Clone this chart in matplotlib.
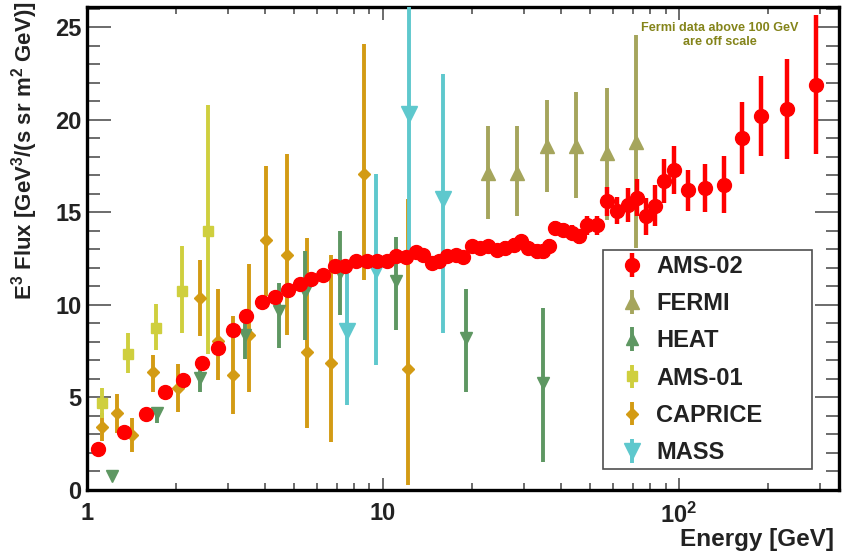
import numpy as np
import matplotlib
matplotlib.use("Agg")
import matplotlib.pyplot as plt
from matplotlib.ticker import LogLocator, FixedLocator, FixedFormatter, MultipleLocator, NullFormatter

plt.rcParams['font.family'] = ['Liberation Sans', 'DejaVu Sans']
plt.rcParams['font.weight'] = 'bold'
plt.rcParams['mathtext.fontset'] = 'custom'
plt.rcParams['mathtext.rm'] = 'Liberation Sans:bold'
plt.rcParams['mathtext.bf'] = 'Liberation Sans:bold'
plt.rcParams['mathtext.it'] = 'Liberation Sans:bold'

# ---------------- data ----------------
ams02_e = [1.09, 1.33, 1.58, 1.83, 2.11, 2.44, 2.77, 3.11, 3.45, 3.91, 4.33, 4.79,
           5.26, 5.72, 6.28, 6.87, 7.46, 8.13, 8.81, 9.51, 10.3, 11.1, 12.0, 12.9,
           13.7, 14.6, 15.4, 16.5, 17.6, 18.7, 20.0, 21.3, 22.7, 24.3, 25.9, 27.6,
           29.2, 31.0, 33.0, 34.8, 36.4, 38.1, 40.7, 43.4, 45.8, 48.7, 52.8, 57.2,
           61.9, 67.0, 72.1, 77.2, 83.1, 89.1, 96.4, 107.6, 122.7, 141.6, 163.1,
           188.7, 230.7, 289.7]
ams02_f = [2.2, 3.15, 4.1, 5.27, 5.95, 6.87, 7.67, 8.62, 9.38, 10.16, 10.41, 10.82,
           11.13, 11.4, 11.63, 12.08, 12.12, 12.35, 12.35, 12.35, 12.4, 12.62, 12.59, 12.86,
           12.7, 12.27, 12.35, 12.62, 12.72, 12.59, 13.17, 13.08, 13.17, 12.95, 13.08, 13.26,
           13.44, 13.08, 12.9, 12.9, 13.17, 14.16, 14.07, 13.9, 13.7, 14.3, 14.3, 15.6,
           15.1, 15.4, 15.8, 14.8, 15.37, 16.7, 17.3, 16.2, 16.3, 16.5, 19.0,
           20.2, 20.6, 21.9]
ams02_err = [0.1, 0.1, 0.1, 0.1, 0.1, 0.1, 0.1, 0.1, 0.15, 0.15, 0.15, 0.15,
             0.15, 0.15, 0.2, 0.2, 0.2, 0.2, 0.2, 0.2, 0.2, 0.25, 0.25, 0.25,
             0.25, 0.25, 0.25, 0.3, 0.3, 0.3, 0.3, 0.3, 0.3, 0.3, 0.35, 0.35,
             0.35, 0.35, 0.4, 0.4, 0.4, 0.35, 0.35, 0.4, 0.4, 0.5, 0.5, 0.8,
             0.75, 0.9, 1.0, 1.0, 1.1, 1.2, 1.3, 1.1, 1.3, 1.55, 1.95,
             2.15, 2.7, 3.75]

fermi_e = [22.6, 28.4, 35.7, 44.9, 57.1, 71.8]
fermi_f = [17.14, 17.14, 18.6, 18.6, 18.2, 18.8]
fermi_lo = [14.65, 14.79, 16.1, 15.8, 14.6, 13.1]
fermi_hi = [19.66, 19.66, 21.1, 21.5, 21.7, 24.6]

heat_e = [1.21, 1.72, 2.41, 3.43, 4.45, 5.47, 7.14, 11.1, 19.0, 34.8]
heat_f = [0.76, 4.15, 6.04, 8.39, 9.65, 10.68, 11.75, 11.27, 8.2, 5.77]
heat_lo = [0.7, 3.6, 5.3, 7.1, 7.7, 8.1, 9.47, 8.66, 5.32, 1.53]
heat_hi = [0.82, 4.5, 6.5, 9.1, 11.2, 12.9, 14.0, 13.67, 10.86, 9.83]

ams01_e = [1.125, 1.378, 1.704, 2.086, 2.56]
ams01_f = [4.69, 7.34, 8.75, 10.77, 14.0]
ams01_lo = [3.9, 6.31, 7.54, 8.51, 7.36]
ams01_hi = [5.5, 8.51, 10.06, 13.17, 20.78]

caprice_e = [1.12, 1.265, 1.421, 1.673, 2.03, 2.405, 2.768, 3.108, 3.52, 4.03,
             4.75, 5.53, 6.65, 8.62, 12.1]
caprice_f = [3.43, 4.15, 2.98, 6.35, 5.5, 10.37, 8.06, 6.22, 8.4, 13.53,
             12.72, 7.45, 6.86, 17.1, 6.53]
caprice_lo = [2.67, 3.07, 2.07, 5.32, 4.24, 8.3, 5.92, 4.11, 5.32, 10.46,
              8.39, 3.34, 2.6, 11.36, 0.27]
caprice_hi = [4.15, 5.19, 3.88, 7.3, 6.82, 12.45, 10.86, 9.38, 12.2, 17.5,
              18.16, 13.6, 12.7, 24.1, 15.7]

mass_e = [7.53, 9.5, 12.2, 16.0]
mass_f = [8.57, 11.9, 20.3, 15.7]
mass_lo = [4.6, 6.76, 12.4, 8.48]
mass_hi = [11.9, 17.1, 28.5, 22.5]

labels = ['AMS-02', 'FERMI', 'HEAT', 'AMS-01', 'CAPRICE', 'MASS']
colors = {'AMS-02': '#ff0000', 'FERMI': '#a5a55c', 'HEAT': '#5e9762',
          'AMS-01': '#cfcf3e', 'CAPRICE': '#d39b14', 'MASS': '#5ec8cd'}
note_text = "Fermi data above 100 GeV\nare off scale"

# ---------------- figure ----------------
fig = plt.figure(figsize=(8.51, 5.54), dpi=100)
ax = fig.add_axes([87/851, 1-490/554, 752/851, 483/554])

def asym(f, lo, hi):
    f = np.array(f); return [f - np.array(lo), np.array(hi) - f]

elw = 2.8
h_caprice = ax.errorbar(caprice_e, caprice_f, yerr=asym(caprice_f, caprice_lo, caprice_hi),
                        fmt='D', ms=6, color=colors['CAPRICE'], elinewidth=elw, capsize=0, zorder=3)
h_ams01 = ax.errorbar(ams01_e, ams01_f, yerr=asym(ams01_f, ams01_lo, ams01_hi),
                      fmt='s', ms=7, color=colors['AMS-01'], elinewidth=elw, capsize=0, zorder=3)
h_heat = ax.errorbar(heat_e, heat_f, yerr=asym(heat_f, heat_lo, heat_hi),
                     fmt='v', ms=9, color=colors['HEAT'], elinewidth=elw, capsize=0, zorder=3)
h_mass = ax.errorbar(mass_e, mass_f, yerr=asym(mass_f, mass_lo, mass_hi),
                     fmt='v', ms=11, color=colors['MASS'], elinewidth=elw, capsize=0, zorder=3)
h_fermi = ax.errorbar(fermi_e, fermi_f, yerr=asym(fermi_f, fermi_lo, fermi_hi),
                      fmt='^', ms=10, color=colors['FERMI'], elinewidth=elw, capsize=0, zorder=3)
h_ams02 = ax.errorbar(ams02_e, ams02_f, yerr=ams02_err,
                      fmt='o', ms=10, color=colors['AMS-02'], elinewidth=3.2, capsize=0, zorder=5)

# legend proxy for HEAT (shown with an up-triangle in the legend)
h_heat_leg = ax.errorbar([np.nan], [np.nan], yerr=[1], fmt='^', ms=9,
                         color=colors['HEAT'], elinewidth=elw, capsize=0)

ax.set_xscale('log')
ax.set_xlim(1.0, 347)
ax.set_ylim(0, 26.1)

for s in ax.spines.values():
    s.set_linewidth(2.4)
    s.set_color('black')

ax.xaxis.set_major_locator(FixedLocator([1, 10, 100]))
ax.xaxis.set_major_formatter(FixedFormatter(['1', '10', r'$10^{2}$']))
ax.xaxis.set_minor_locator(LogLocator(base=10, subs=np.arange(2, 10), numticks=20))
ax.xaxis.set_minor_formatter(NullFormatter())
ax.yaxis.set_major_locator(MultipleLocator(5))
ax.yaxis.set_minor_locator(MultipleLocator(1))

ax.tick_params(axis='both', which='both', direction='in', top=True, right=True,
               color='#444444', width=1.1)
ax.tick_params(axis='x', which='major', length=9, pad=9, labelsize=17)
ax.tick_params(axis='x', which='minor', length=5)
ax.tick_params(axis='y', which='major', length=17, pad=4, labelsize=17)
ax.tick_params(axis='y', which='minor', length=9.5)
for lab in ax.get_xticklabels() + ax.get_yticklabels():
    lab.set_fontweight('bold')
    lab.set_color('#222222')

ax.set_ylabel(r'E$^{3}$ Flux [GeV$^{3}$/(s sr m$^{2}$ GeV)]', fontsize=16,
              fontweight='bold', color='#222222', ha='right')
ax.yaxis.set_label_coords(-0.062, 1.012)
ax.set_xlabel('Energy [GeV]', fontsize=17.5, fontweight='bold', color='#222222', ha='right')
ax.xaxis.set_label_coords(0.993, -0.078)

ax.text(0.842, 0.942, note_text, transform=ax.transAxes, ha='center', va='center',
        fontsize=9.1, fontweight='bold', color='#84841a', linespacing=1.3)

handles = [h_ams02, h_fermi, h_heat_leg, h_ams01, h_caprice, h_mass]
leg = ax.legend(handles, labels, loc='upper left', bbox_to_anchor=(0.686, 0.497, 0.278, 0.0),
                mode='expand', frameon=True, fancybox=False, edgecolor='#222222',
                borderpad=0.22, labelspacing=0.6, handlelength=2.0, handletextpad=0.05,
                borderaxespad=0, prop={'weight': 'bold', 'size': 17})
leg.get_frame().set_linewidth(1.2)
leg.set_zorder(10)
for t in leg.get_texts():
    t.set_color('#222222')

fig.savefig('out.png', dpi=100)
